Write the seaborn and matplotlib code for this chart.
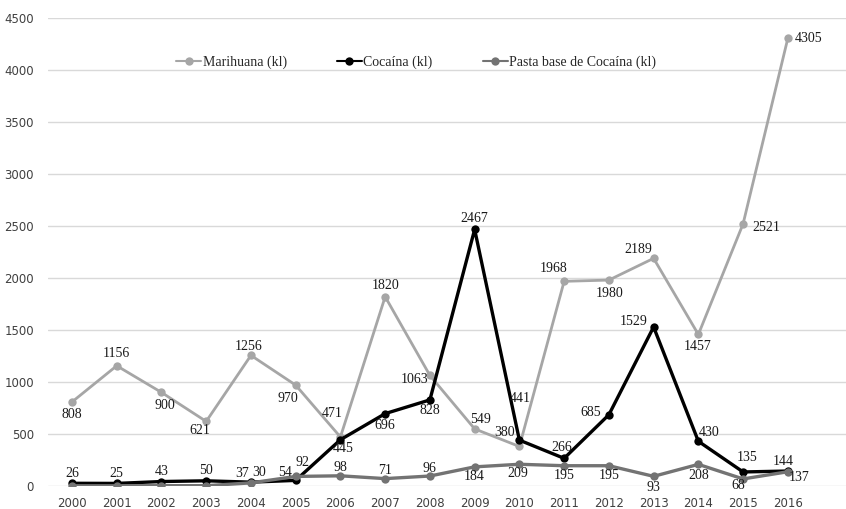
import pandas as pd
import matplotlib
matplotlib.use("Agg")
import matplotlib.pyplot as plt
import seaborn as sns

# Datos por año
years = list(range(2000, 2017))
marihuana = [808, 1156, 900, 621, 1256, 970, 471, 1820, 1063, 549, 380, 1968, 1980, 2189, 1457, 2521, 4305]
cocaina = [26, 25, 43, 50, 37, 54, 445, 696, 828, 2467, 441, 266, 685, 1529, 430, 135, 144]
pasta_base = [2, 2, 3, 3, 30, 92, 98, 71, 96, 184, 209, 195, 195, 93, 208, 68, 137]
# pasta base 2000-2003 sin etiqueta en el original
pasta_labels = [None, None, None, None, 30, 92, 98, 71, 96, 184, 209, 195, 195, 93, 208, 68, 137]

series = ["Marihuana (kl)", "Cocaína (kl)", "Pasta base de Cocaína (kl)"]
colors = ["#a6a6a6", "#000000", "#737373"]

# desplazamiento de etiquetas (pixeles)
off_mar = [(0, -13), (0, 12), (3, -13), (-6, -9), (-2, 9), (-8, -13), (-8, 24), (0, 11), (-15, -4),
           (6, 9), (-15, 14), (-11, 13), (1, -13), (-15, 9), (-1, -12), (23, -4), (21, 0)]
off_coc = [(0, 10), (0, 10), (0, 10), (0, 10), (-9, 9), (-11, 8), (3, -9), (0, -12), (0, -11),
           (0, 11), (1, 42), (-2, 11), (-18, 2), (-20, 5), (11, 9), (4, 14), (-5, 10)]
off_pas = [None, None, None, None, (8, 10), (7, 14), (0, 8), (0, 8), (0, 8), (0, -10), (-2, -9),
           (0, -10), (0, -10), (0, -11), (0, -11), (-5, -7), (11, -6)]

df = pd.DataFrame({
    "year": years * 3,
    "value": marihuana + cocaina + pasta_base,
    "serie": [series[0]] * len(years) + [series[1]] * len(years) + [series[2]] * len(years),
})

sns.set_style("white")
fig = plt.figure(figsize=(8.46, 5.09), dpi=100)
ax = fig.add_axes([48 / 846, 23 / 509, 798 / 846, 468 / 509])

sns.lineplot(data=df, x="year", y="value", hue="serie", hue_order=series, palette=colors,
             marker="o", markersize=6, markeredgewidth=0, ax=ax)
for line, lw in zip(ax.lines, [2.0, 2.4, 2.4]):
    line.set_linewidth(lw)

lab_font = dict(family="Liberation Serif", size=10, color="#1a1a1a")
for vals, offs, labs in [(marihuana, off_mar, marihuana), (cocaina, off_coc, cocaina),
                         (pasta_base, off_pas, pasta_labels)]:
    for yr, v, o, lab in zip(years, vals, offs, labs):
        if lab is None:
            continue
        ax.annotate(str(lab), (yr, v), xytext=o, textcoords="offset pixels",
                    ha="center", va="center", **lab_font)

ax.set_xlim(2000 - 0.536, 2000 + 17.3)
ax.set_ylim(0, 4500)
ax.set_yticks(range(0, 4501, 500))
ax.set_xticks(years)
ax.set_xlabel("")
ax.set_ylabel("")
ax.grid(axis="y", color="#d9d9d9", linewidth=1)
ax.grid(axis="x", visible=False)
sns.despine(ax=ax, left=True, bottom=True)
ax.tick_params(axis="both", length=0, labelsize=8.5, labelcolor="#404040")
ax.tick_params(axis="y", pad=10)
ax.tick_params(axis="x", pad=8)

handles, labels = ax.get_legend_handles_labels()
ax.legend(handles, labels, loc="center", bbox_to_anchor=(0.492, 0.878),
          bbox_transform=fig.transFigure, ncol=3, frameon=False, handlelength=1.8,
          handletextpad=0.1, columnspacing=3.6, prop={"family": "Liberation Serif", "size": 10})

fig.savefig("out.png", dpi=100)
